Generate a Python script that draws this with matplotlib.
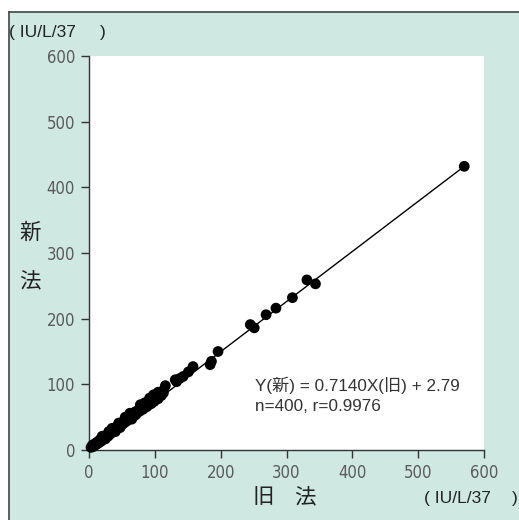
import matplotlib
matplotlib.use("Agg")
import matplotlib.pyplot as plt
from matplotlib.patches import Rectangle
from matplotlib.lines import Line2D
from matplotlib import font_manager

# old method (x) vs new method (y), IU/L/37
old_vals = [3, 5, 6, 8, 9, 11, 12, 14, 15, 17, 18, 20, 22, 24, 25, 27, 29, 31, 32, 34,
            36, 38, 40, 42, 44, 46, 48, 50, 52, 54, 56, 58, 60, 62, 64, 66, 68, 70, 72, 75,
            77, 80, 82, 85, 88, 90, 93, 96, 99, 102, 105, 108, 110, 113,
            30, 45, 62, 78, 92, 47, 70,
            20, 35, 55, 85, 105, 25, 40, 65, 95,
            98, 113, 116, 131, 133, 138, 143, 151, 158, 184, 186, 196,
            245, 251, 269, 284, 309, 331, 344, 570]
new_vals = [4, 7, 5, 9, 7, 11, 9, 13, 11, 16, 13, 18, 16, 21, 18, 23, 21, 27, 24, 29,
            27, 33, 30, 35, 34, 39, 36, 42, 40, 45, 43, 48, 46, 51, 49, 55, 52, 58, 55, 61,
            59, 64, 62, 67, 66, 71, 70, 75, 74, 79, 78, 84, 83, 87,
            28, 41, 56, 69, 79, 34, 53,
            21, 33, 50, 72, 88, 17, 28, 47, 71,
            84, 91, 98, 107, 104, 109, 112, 119, 127, 130, 135, 150,
            191, 186, 206, 216, 232, 259, 253, 432]

fit_x = [5, 570]
fit_y = [1, 432]

ticks = [0, 100, 200, 300, 400, 500, 600]

unit_open = "( IU/L/37"
unit_close = ")"
eq_line1 = "Y(新) = 0.7140X(旧) + 2.79"
eq_line2 = "n=400, r=0.9976"

bg = "#cfe8e1"
names = {f.name for f in font_manager.fontManager.ttflist}
if "Liberation Sans Narrow" in names:
    tick_font = dict(family="Liberation Sans Narrow")
else:
    tick_font = dict(family="DejaVu Sans", stretch="condensed")
body = ["Liberation Sans", "Noto Sans CJK JP", "DejaVu Sans"]
cjk = ["Noto Sans CJK JP", "DejaVu Sans"]

fig = plt.figure(figsize=(5.19, 5.20), dpi=100)
fig.patch.set_facecolor("white")

# teal panel with top/left frame lines
W, H = 519, 520
fig.patches.append(Rectangle((9 / W, 0), 1 - 9 / W, (H - 12) / H,
                             transform=fig.transFigure, facecolor=bg,
                             edgecolor="none", zorder=-1))
fig.lines.append(Line2D([9 / W, 1], [(H - 12) / H] * 2, transform=fig.transFigure,
                        color="#444444", lw=1.2))
fig.lines.append(Line2D([9 / W] * 2, [0, (H - 12) / H], transform=fig.transFigure,
                        color="#444444", lw=1.2))

ax = fig.add_axes([89 / W, (H - 450) / H, 395 / W, 394 / H])
ax.set_zorder(2)
ax.set_facecolor("white")

ax.plot(fit_x, fit_y, color="black", lw=1.0, zorder=2)
ax.scatter(old_vals, new_vals, s=60, color="black", edgecolors="none",
           zorder=3, clip_on=False)

ax.set_xlim(0, 600)
ax.set_ylim(0, 600)
ax.set_xticks(ticks)
ax.set_yticks(ticks)
for side in ["top", "right"]:
    ax.spines[side].set_visible(False)
for side in ["left", "bottom"]:
    ax.spines[side].set_color("#333333")
    ax.spines[side].set_linewidth(1.0)
ax.tick_params(direction="out", length=6, width=1, color="#333333",
               labelcolor="#5a5a5a", labelsize=12, pad=4)
for lab in ax.get_xticklabels() + ax.get_yticklabels():
    lab.set_fontproperties(font_manager.FontProperties(size=12, **tick_font))

ax.text(252, 99, eq_line1, fontsize=12.3, color="#333333", family=body, va="center")
ax.text(252, 67, eq_line2, fontsize=12.3, color="#333333", family=body, va="center")

# axis titles and units
fig.text(9 / W, 1 - 33 / H, unit_open, fontsize=12.5, color="#222222", family=body,
         va="center", ha="left")
fig.text(100 / W, 1 - 33 / H, unit_close, fontsize=12.5, color="#222222", family=body,
         va="center", ha="left")
fig.text(424 / W, 1 - 498 / H, unit_open, fontsize=12.5, color="#222222", family=body,
         va="center", ha="left")
fig.text(512 / W, 1 - 498 / H, unit_close, fontsize=12.5, color="#222222", family=body,
         va="center", ha="left")
fig.text(30 / W, 1 - 233 / H, "新", fontsize=15.5, color="#222222", family=cjk,
         ha="center", va="center")
fig.text(30 / W, 1 - 281 / H, "法", fontsize=15.5, color="#222222", family=cjk,
         ha="center", va="center")
fig.text(263 / W, 1 - 497 / H, "旧", fontsize=15.5, color="#222222", family=cjk,
         ha="center", va="center")
fig.text(305 / W, 1 - 497 / H, "法", fontsize=15.5, color="#222222", family=cjk,
         ha="center", va="center")

fig.savefig("out.png", dpi=100, facecolor=fig.get_facecolor())
